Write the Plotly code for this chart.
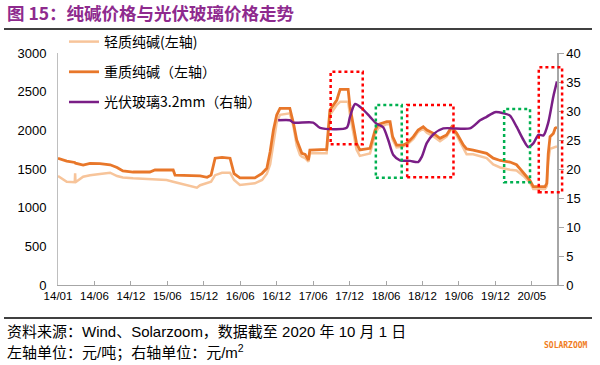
import plotly.graph_objects as go

# ---------------- data ----------------
tick_labels = ["14/01", "14/06", "14/12", "15/06", "15/12", "16/06", "16/12",
               "17/06", "17/12", "18/06", "18/12", "19/06", "19/12", "20/05"]

# x positions in units of tick intervals (category-axis positions)
soda_x = [0.00, 0.24, 0.46, 0.47, 0.48, 0.69, 0.88, 1.15, 1.43, 1.62, 1.78, 2.06, 2.52, 2.66,
          2.98, 3.16, 3.21, 3.54, 3.81, 3.90, 4.09, 4.20, 4.31, 4.50, 4.72, 4.83, 4.99,
          5.40, 5.60, 5.73, 5.82, 5.91, 6.00, 6.09, 6.36, 6.46, 6.55, 6.64, 6.69, 6.78,
          6.87, 6.91, 7.37, 7.46, 7.65, 7.74, 7.96, 8.01, 8.10, 8.19, 8.28, 8.56, 8.70,
          8.79, 9.02, 9.11, 9.18, 9.29, 9.47, 9.57, 9.75, 9.88, 10.02, 10.12, 10.30,
          10.48, 10.66, 10.80, 10.94, 11.12, 11.21, 11.39, 11.76, 11.94, 12.13, 12.40,
          12.58, 12.77, 12.95, 13.04, 13.36, 13.41, 13.45, 13.50, 13.59, 13.64, 13.69]

heavy_soda = [1638, 1603, 1585, 1580, 1575, 1551, 1573, 1570, 1555, 1520, 1474, 1461, 1461, 1487,
              1487, 1487, 1422, 1415, 1410, 1410, 1392, 1420, 1640, 1651, 1640, 1440, 1385,
              1385, 1444, 1509, 1724, 2004, 2198, 2285, 2285, 2091, 1875, 1746, 1703, 1690,
              1616, 1746, 1755, 2263, 2392, 2530, 2530, 2305, 2047, 1832, 1746, 1767, 2004,
              2078, 2112, 2112, 1918, 1810, 1810, 1832, 1918, 2004, 2047, 2004, 1961,
              1897, 1940, 2043, 1961, 1810, 1760, 1745, 1703, 1640, 1610, 1590,
              1555, 1450, 1350, 1271, 1271, 1315, 1700, 1918, 1960, 2026, 2040]

light_soda = [1409, 1336, 1330, 1444, 1330, 1400, 1420, 1435, 1452, 1409, 1390, 1379, 1366, 1362,
              1358, 1336, 1330, 1293, 1258, 1290, 1315, 1336, 1420, 1452, 1452, 1358, 1293,
              1315, 1358, 1440, 1560, 1850, 2100, 2200, 2220, 2050, 1800, 1681, 1660, 1640,
              1594, 1703, 1703, 2198, 2330, 2370, 2370, 2200, 1950, 1750, 1670, 1700, 1950,
              2030, 2080, 2080, 1880, 1780, 1790, 1810, 1890, 1980, 2020, 1970, 1920,
              1860, 1920, 2020, 1930, 1760, 1690, 1690, 1640, 1560, 1520, 1490,
              1480, 1410, 1320, 1240, 1240, 1280, 1600, 1760, 1780, 1785, 1790]

glass_x = [6.04, 6.36, 6.46, 7.00, 7.19, 7.92, 8.01, 8.15, 8.33, 8.56, 8.74, 8.92, 9.06,
           9.20, 9.38, 9.66, 9.88, 9.98, 10.12, 10.30, 10.57, 11.30, 11.58, 11.76, 11.99,
           12.22, 12.40, 12.58, 12.77, 12.90, 13.04, 13.18, 13.32, 13.45, 13.59, 13.69]
glass_price = [28.4, 28.4, 28.0, 28.0, 27.1, 27.1, 29.0, 31.2, 30.5, 29.0, 27.8, 27.2, 25.0,
               22.4, 21.5, 21.4, 21.2, 22.1, 24.5, 26.0, 27.0, 27.0, 28.4, 29.0, 29.8,
               29.6, 29.2, 27.3, 25.0, 23.8, 24.4, 25.9, 25.8, 28.0, 32.5, 35.1]

# highlight boxes: (x0, x1, y0, y1) in x-units and left-axis values
red_boxes = [(7.48, 8.36, 1819, 2758), (9.58, 10.85, 1393, 2327), (13.19, 13.83, 1199, 2815)]
green_boxes = [(8.72, 9.43, 1387, 2327), (12.24, 12.95, 1328, 2276)]

# ---------------- layout constants ----------------
W, H = 600, 365
PL, PR, PT, PB = 58, 557, 53, 285          # plot area edges in window pixels
ML, MR, MT, MB = PL, W - PR, PT, H - PB
PW, PH = PR - PL, PB - PT
XMAX = max(soda_x)
YMAX = 3000
FONT = "Liberation Sans, Arial, Noto Sans CJK SC, sans-serif"
CJK = "Noto Sans CJK SC, Liberation Sans, sans-serif"


def px2paper_x(px):
    return (px - PL) / PW


def px2paper_y(py):
    return (PB - py) / PH


fig = go.Figure()
fig.add_trace(go.Scatter(x=soda_x, y=light_soda, name="轻质纯碱(左轴)", mode="lines",
                         line=dict(color="#F7C49A", width=2.5), legendgroup="a"))
fig.add_trace(go.Scatter(x=soda_x, y=heavy_soda, name="重质纯碱（左轴）", mode="lines",
                         line=dict(color="#E8772A", width=2.8), legendgroup="b"))
fig.add_trace(go.Scatter(x=glass_x, y=glass_price, name="光伏玻璃3.2mm（右轴）", mode="lines",
                         line=dict(color="#7A1E86", width=2.5, shape="spline", smoothing=0.7),
                         yaxis="y2", legendgroup="c"))

shapes = []
for boxes, col in ((red_boxes, "#FF0000"), (green_boxes, "#00B050")):
    for x0, x1, y0, y1 in boxes:
        shapes.append(dict(type="rect", xref="paper", yref="paper",
                           x0=x0 / XMAX, x1=x1 / XMAX, y0=y0 / YMAX, y1=y1 / YMAX,
                           line=dict(color=col, width=2.5, dash="dot")))
# title rule and footer rule
for py in (29, 318):
    shapes.append(dict(type="line", xref="paper", yref="paper",
                       x0=px2paper_x(4), x1=px2paper_x(592), y0=px2paper_y(py), y1=px2paper_y(py),
                       line=dict(color="#000000", width=1.5)))

annotations = [
    dict(text="<b>图 15：纯碱价格与光伏玻璃价格走势</b>", xref="paper", yref="paper",
         x=px2paper_x(5), y=px2paper_y(12), xanchor="left", yanchor="middle", showarrow=False,
         font=dict(family=CJK, size=17.5, color="#8E2A8E")),
    dict(text="资料来源：Wind、Solarzoom，数据截至 2020 年 10 月 1 日", xref="paper", yref="paper",
         x=px2paper_x(5), y=px2paper_y(331), xanchor="left", yanchor="middle", showarrow=False,
         font=dict(family=FONT, size=15, color="#000000")),
    dict(text="左轴单位：元/吨；右轴单位：元/m<sup>2</sup>", xref="paper", yref="paper",
         x=px2paper_x(5), y=px2paper_y(352), xanchor="left", yanchor="middle", showarrow=False,
         font=dict(family=FONT, size=15, color="#000000")),
    dict(text="<b>SOLARZOOM</b>", xref="paper", yref="paper",
         x=px2paper_x(590), y=px2paper_y(345), xanchor="right", yanchor="middle", showarrow=False,
         font=dict(family="DejaVu Sans Mono, monospace", size=8, color="#F07D1E")),
]

fig.update_layout(
    width=W, height=H,
    margin=dict(l=ML, r=MR, t=MT, b=MB, autoexpand=False),
    paper_bgcolor="white", plot_bgcolor="white",
    font=dict(family=FONT, size=13, color="#000000"),
    showlegend=True,
    legend=dict(x=px2paper_x(64), y=px2paper_y(26), xanchor="left", yanchor="top",
                bgcolor="rgba(0,0,0,0)", font=dict(family=CJK, size=14, color="#000000"),
                tracegroupgap=9, traceorder="grouped"),
    xaxis=dict(range=[0, XMAX], tickvals=list(range(len(tick_labels))), ticktext=tick_labels,
               showgrid=False, zeroline=False, showline=True, linecolor="#A6A6A6", linewidth=1,
               ticks="inside", ticklen=4, tickcolor="#A6A6A6", tickfont=dict(size=11.5)),
    yaxis=dict(range=[0, YMAX], dtick=500, showgrid=False, zeroline=False, showline=True,
               linecolor="#BFBFBF", linewidth=1, ticks="", ticklabelstandoff=8,
               tickfont=dict(size=13)),
    yaxis2=dict(range=[0, 40], dtick=5, overlaying="y", side="right", showgrid=False,
                zeroline=False, showline=True, linecolor="#A6A6A6", linewidth=1.5,
                ticks="outside", ticklen=5, tickcolor="#A6A6A6", tickfont=dict(size=13)),
    shapes=shapes,
    annotations=annotations,
)

# remove the browser's default 8px page margin so the figure fills the window exactly
fig.write_html("out.html", config={"displayModeBar": False},
               post_script="document.body.style.margin='0';")
